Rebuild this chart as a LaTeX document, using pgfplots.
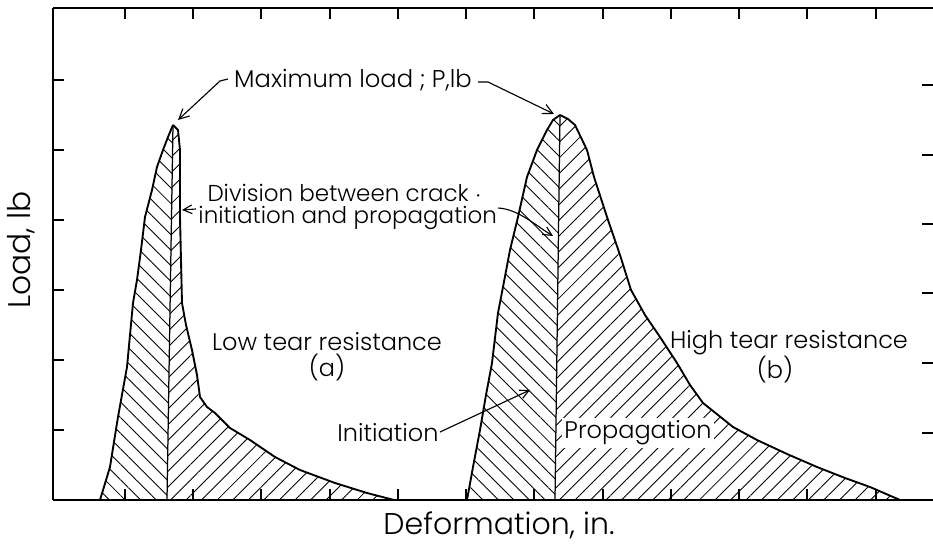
\documentclass[border=0pt]{standalone}
\usepackage{fontspec}
\setmainfont{Poppins}[UprightFont={* Light}]
\usepackage{pgfplots}
\pgfplotsset{compat=1.18}
\usetikzlibrary{patterns.meta,arrows.meta}

\pgfplotstableread{
x y
100 0
110 33
118 83
127 133
133 197
137 220
141 250
145 283
152 310
157 333
163 350
168 363
173 375
}\aleft
\pgfplotstableread{
x y
173 375
178 370
180 350
180 283
182 197
186 175
192 150
197 125
200 103
207 93
215 87
230 72
250 60
275 43
300 30
335 17
367 7
394 0
}\aright
\pgfplotstableread{
x y
467 0
473 33
480 70
486 105
492 137
498 187
503 213
510 250
518 283
527 323
537 350
547 370
553 380
560 385
}\bleft
\pgfplotstableread{
x y
560 385
568 381
575 375
587 350
594 323
607 283
620 245
631 210
645 185
660 163
677 137
690 115
703 97
733 73
757 60
787 46
817 33
845 22
870 13
900 0
}\bright

\begin{document}
\begin{tikzpicture}
\begin{axis}[
  scale only axis, width=352pt, height=196.8pt,
  xmin=53, xmax=933, ymin=0, ymax=492,
  axis y line*=left,
  y axis line style={-},
  clip=false,
  axis line style={line width=0.7pt},
  tick align=inside,
  major tick length=4.5pt,
  tick style={black, line width=0.5pt},
  xtick={125,193,261,330,398,466,534,603,671,739,807,876},
  ytick={70,140,210,280,350,420},
  xticklabels={}, yticklabels={},
  xtick pos=both,
]
% hatched regions
\addplot[draw=none, pattern={Lines[angle=-45,distance=4.4pt,line width=0.35pt]}]
  coordinates {(100,0)(110,33)(118,83)(127,133)(133,197)(137,220)(141,250)(145,283)(152,310)(157,333)(163,350)(168,363)(173,375)(170,190)(167,0)};
\addplot[draw=none, pattern={Lines[angle=45,distance=4.4pt,line width=0.35pt]}]
  coordinates {(173,375)(178,370)(180,350)(180,283)(182,197)(186,175)(192,150)(197,125)(200,103)(207,93)(215,87)(230,72)(250,60)(275,43)(300,30)(335,17)(367,7)(394,0)(167,0)(170,190)};
\addplot[draw=none, pattern={Lines[angle=-45,distance=4.4pt,line width=0.35pt]}]
  coordinates {(467,0)(473,33)(480,70)(486,105)(492,137)(498,187)(503,213)(510,250)(518,283)(527,323)(537,350)(547,370)(553,380)(560,385)(555,0)};
\addplot[draw=none, pattern={Lines[angle=45,distance=4.4pt,line width=0.35pt]}]
  coordinates {(560,385)(568,381)(575,375)(587,350)(594,323)(607,283)(620,245)(631,210)(645,185)(660,163)(677,137)(690,115)(703,97)(733,73)(757,60)(787,46)(817,33)(845,22)(870,13)(900,0)(555,0)};
% outlines
\addplot[black, line width=0.75pt] table {\aleft};
\addplot[black, line width=0.75pt] table {\aright};
\addplot[black, line width=0.75pt] table {\bleft};
\addplot[black, line width=0.75pt] table {\bright};
\addplot[black, line width=0.5pt] coordinates {(167,0)(170,190)(173,375)};
\addplot[black, line width=0.5pt] coordinates {(555,0)(560,385)};
% right-side ticks
\pgfplotsinvokeforeach{67,137,207,276,345,415}{
  \draw[black, line width=0.5pt] (axis cs:933,#1) -- (axis cs:922,#1);
}
% annotations
\node[font=\fontsize{9.7}{12}\selectfont] at (axis cs:353,420) {Maximum load ; P,lb};
\draw[line width=0.45pt, -{Straight Barb[length=4pt,width=4pt]}]
  (axis cs:228,421) -- (axis cs:220,419) -- (axis cs:178,380);
\draw[line width=0.45pt, -{Straight Barb[length=4pt,width=4pt]}]
  (axis cs:478,418) -- (axis cs:488,418) -- (axis cs:554,386);
\node[font=\fontsize{9.2}{12}\selectfont, anchor=west, inner sep=0pt] at (axis cs:207,307) {Division between crack $\cdot$};
\node[font=\fontsize{9.2}{12}\selectfont, anchor=west, inner sep=0pt] at (axis cs:198,282) {initiation and propagation};
\draw[line width=0.45pt, -{Straight Barb[length=3.5pt,width=3.5pt]}]
  (axis cs:196,291) -- (axis cs:182,290);
\draw[line width=0.45pt, -{Straight Barb[length=3.5pt,width=3.5pt]}]
  (axis cs:498,292) .. controls (axis cs:518,291) and (axis cs:535,275) .. (axis cs:553,264);
\node[font=\fontsize{9.6}{12}\selectfont] at (axis cs:327,158) {Low tear resistance};
\node[font=\fontsize{9.6}{12}\selectfont] at (axis cs:327,132) {(a)};
\node[font=\fontsize{9.6}{12}\selectfont] at (axis cs:789,157) {High tear resistance};
\node[font=\fontsize{9.6}{12}\selectfont] at (axis cs:775,130) {(b)};
\node[font=\fontsize{9.6}{12}\selectfont] at (axis cs:388,67) {Initiation};
\draw[line width=0.45pt, -{Straight Barb[length=3.5pt,width=3.5pt]}]
  (axis cs:440,68) -- (axis cs:530,110);
\node[font=\fontsize{9.6}{12}\selectfont, fill=white, inner sep=1pt] at (axis cs:638,67) {Propagation};
% axis labels
\node[font=\fontsize{12}{14}\selectfont] at (axis cs:499,-25) {Deformation, in.};
\node[font=\fontsize{12.5}{15}\selectfont, rotate=90] at (axis cs:21,250) {Load, lb};
\coordinate (bbl) at (axis cs:0,-46);
\coordinate (btr) at (axis cs:933,500);
\end{axis}
\pgfresetboundingbox
\useasboundingbox (bbl) rectangle (btr);
\end{tikzpicture}
\end{document}
